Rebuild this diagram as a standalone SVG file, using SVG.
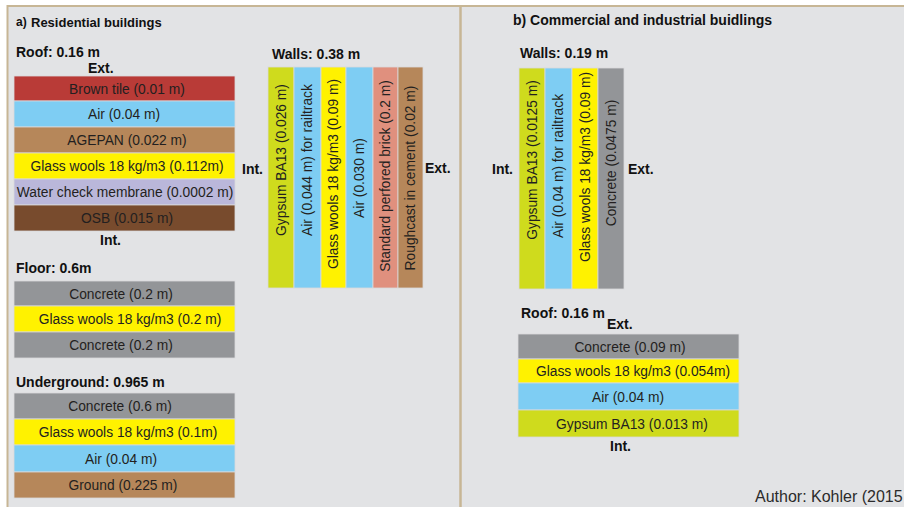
<svg xmlns="http://www.w3.org/2000/svg" width="904" height="507" viewBox="0 0 904 507">
<style>
  .h { font-family: "Liberation Sans", Arial, sans-serif; font-weight: bold; fill: #111; }
  .t { font-family: "Liberation Sans", Arial, sans-serif; font-size: 13.8px; fill: #231f20; text-anchor: middle; }
  .v { font-family: "Liberation Sans", Arial, sans-serif; font-size: 13.8px; fill: #231f20; text-anchor: middle; }
  .lay { stroke: #d9dadc; stroke-width: 0.8; }
  .gyp { fill: #cfdb1d; }
  .air { fill: #7ecdf3; }
  .gw { fill: #fff200; }
  .con { fill: #939598; }
  .tile { fill: #b93b37; }
  .agp { fill: #b6875a; }
  .mem { fill: #bab7da; }
  .osb { fill: #784b2d; }
  .brk { fill: #e0907e; }
</style>
<rect x="0" y="0" width="904" height="507" fill="#ffffff"/>
<rect x="7.5" y="6" width="900" height="510" fill="#e2e3e5" stroke="#c7b695" stroke-width="2"/>
<line x1="460.5" y1="6" x2="460.5" y2="507" stroke="#c7b695" stroke-width="2.5"/>

<g id="title-a">
  <text class="h" x="16" y="26" font-size="12">a)</text>
  <text class="h" x="31" y="27" font-size="13">Residential buildings</text>
</g>
<g id="title-b">
  <text class="h" x="513" y="25" font-size="14">b) Commercial and industrial buidlings</text>
</g>

<g id="res-roof">
  <text class="h" x="16" y="57" font-size="14">Roof: 0.16 m</text>
  <text class="h" x="88" y="73" font-size="14">Ext.</text>
  <rect class="lay tile" x="14" y="76" width="221" height="25"/>
  <rect class="lay air" x="14" y="101" width="221" height="26"/>
  <rect class="lay agp" x="14" y="127" width="221" height="26"/>
  <rect class="lay gw" x="14" y="153" width="221" height="26"/>
  <rect class="lay mem" x="14" y="179" width="221" height="26"/>
  <rect class="lay osb" x="14" y="205" width="221" height="26"/>
  <text class="t" x="127" y="93.5">Brown tile (0.01 m)</text>
  <text class="t" x="124" y="119">Air (0.04 m)</text>
  <text class="t" x="127" y="145">AGEPAN (0.022 m)</text>
  <text class="t" x="127" y="171">Glass wools 18 kg/m3 (0.112m)</text>
  <text class="t" x="125" y="197">Water check membrane (0.0002 m)</text>
  <text class="t" x="127" y="223">OSB (0.015 m)</text>
  <text class="h" x="100" y="245" font-size="14">Int.</text>
</g>

<g id="res-floor">
  <text class="h" x="16" y="273" font-size="14">Floor: 0.6m</text>
  <rect class="lay con" x="14" y="281" width="221" height="25"/>
  <rect class="lay gw" x="14" y="306" width="221" height="26"/>
  <rect class="lay con" x="14" y="332" width="221" height="26"/>
  <text class="t" x="121" y="298.5">Concrete (0.2 m)</text>
  <text class="t" x="130" y="324">Glass wools 18 kg/m3 (0.2 m)</text>
  <text class="t" x="121" y="350">Concrete (0.2 m)</text>
</g>

<g id="res-underground">
  <text class="h" x="16" y="387" font-size="14">Underground: 0.965 m</text>
  <rect class="lay con" x="14" y="393" width="221" height="26"/>
  <rect class="lay gw" x="14" y="419" width="221" height="26"/>
  <rect class="lay air" x="14" y="445" width="221" height="27"/>
  <rect class="lay agp" x="14" y="472" width="221" height="26"/>
  <text class="t" x="120" y="411">Concrete (0.6 m)</text>
  <text class="t" x="128" y="437">Glass wools 18 kg/m3 (0.1m)</text>
  <text class="t" x="121" y="463.5">Air (0.04 m)</text>
  <text class="t" x="123" y="490">Ground (0.225 m)</text>
</g>

<g id="res-walls">
  <text class="h" x="272" y="59" font-size="14">Walls: 0.38 m</text>
  <rect class="lay gyp" x="268" y="67" width="26" height="221"/>
  <rect class="lay air" x="294" y="67" width="27" height="221"/>
  <rect class="lay gw" x="321" y="67" width="25" height="221"/>
  <rect class="lay air" x="346" y="67" width="27" height="221"/>
  <rect class="lay brk" x="373" y="67" width="25" height="221"/>
  <rect class="lay agp" x="398" y="67" width="25" height="221"/>
  <text class="v" transform="translate(286,160) rotate(-90)">Gypsum BA13 (0.026 m)</text>
  <text class="v" transform="translate(312,160) rotate(-90)">Air (0.044 m) for railtrack</text>
  <text class="v" transform="translate(338,174) rotate(-90)">Glass wools 18 kg/m3 (0.09 m)</text>
  <text class="v" transform="translate(364,178) rotate(-90)">Air (0.030 m)</text>
  <text class="v" transform="translate(390,176) rotate(-90)">Standard perfored brick (0.2 m)</text>
  <text class="v" transform="translate(415,178) rotate(-90)">Roughcast in cement (0.02 m)</text>
  <text class="h" x="242" y="174" font-size="14">Int.</text>
  <text class="h" x="425" y="173" font-size="14">Ext.</text>
</g>

<g id="com-walls">
  <text class="h" x="520" y="58" font-size="14">Walls: 0.19 m</text>
  <rect class="lay gyp" x="519" y="68" width="26" height="221"/>
  <rect class="lay air" x="545" y="68" width="27" height="221"/>
  <rect class="lay gw" x="572" y="68" width="26" height="221"/>
  <rect class="lay con" x="598" y="68" width="26" height="221"/>
  <text class="v" transform="translate(537,160) rotate(-90)">Gypsum BA13 (0.0125 m)</text>
  <text class="v" transform="translate(563,166) rotate(-90)">Air (0.04 m) for railtrack</text>
  <text class="v" transform="translate(590,167) rotate(-90)">Glass wools 18 kg/m3 (0.09 m)</text>
  <text class="v" transform="translate(616,163) rotate(-90)">Concrete (0.0475 m)</text>
  <text class="h" x="492" y="174" font-size="14">Int.</text>
  <text class="h" x="628" y="174" font-size="14">Ext.</text>
</g>

<g id="com-roof">
  <text class="h" x="521" y="318" font-size="14">Roof: 0.16 m</text>
  <text class="h" x="607" y="329" font-size="14">Ext.</text>
  <rect class="lay con" x="518" y="334" width="221" height="25"/>
  <rect class="lay gw" x="518" y="359" width="221" height="24"/>
  <rect class="lay air" x="518" y="383" width="221" height="27"/>
  <rect class="lay gyp" x="518" y="410" width="221" height="27"/>
  <text class="t" x="630" y="351.5">Concrete (0.09 m)</text>
  <text class="t" x="633" y="376">Glass wools 18 kg/m3 (0.054m)</text>
  <text class="t" x="628" y="401.5">Air (0.04 m)</text>
  <text class="t" x="632" y="428.5">Gypsum BA13 (0.013 m)</text>
  <text class="h" x="610" y="451" font-size="14">Int.</text>
</g>

<g id="connectors"></g>

<text x="755" y="502" font-family="'Liberation Sans', Arial, sans-serif" font-size="16" fill="#2b2b2b">Author: Kohler (2015</text>
</svg>
